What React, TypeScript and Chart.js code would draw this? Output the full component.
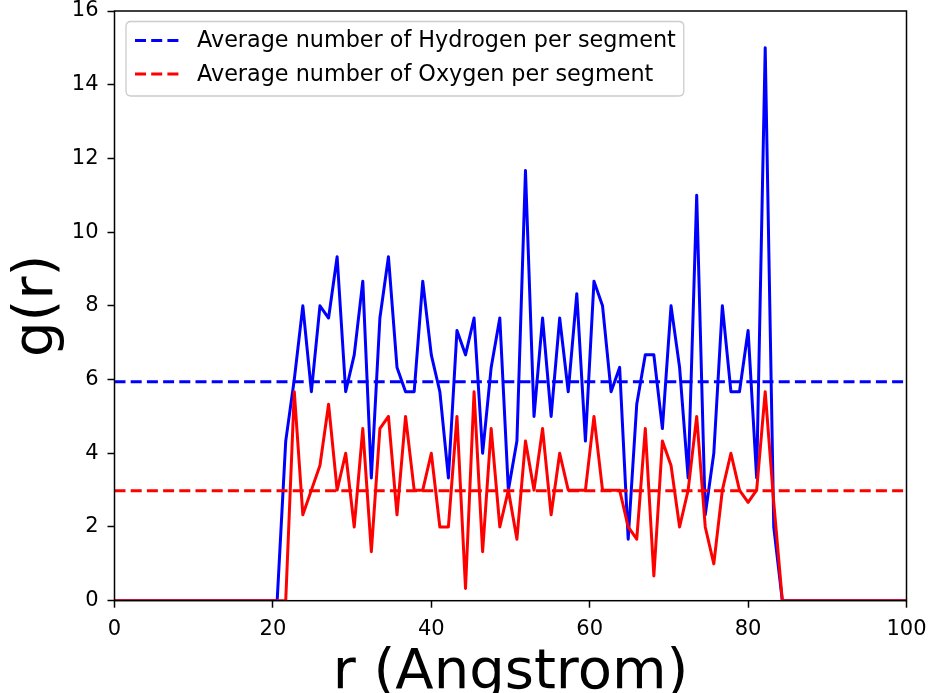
import React, { useEffect, useRef } from 'react';
import { Chart, registerables } from 'chart.js';

Chart.register(...registerables);

// r grid (Angstrom)
const rValues = [
  0, 1.08, 2.16, 3.24, 4.32, 5.41, 6.49, 7.57, 8.65, 9.73,
  10.81, 11.89, 12.97, 14.05, 15.13, 16.22, 17.3, 18.38, 19.46, 20.54,
  21.62, 22.7, 23.78, 24.86, 25.94, 27.03, 28.11, 29.19, 30.27, 31.35,
  32.43, 33.51, 34.59, 35.67, 36.75, 37.84, 38.92, 40.0, 41.08, 42.16,
  43.24, 44.32, 45.4, 46.48, 47.56, 48.65, 49.73, 50.81, 51.89, 52.97,
  54.05, 55.13, 56.21, 57.29, 58.37, 59.46, 60.54, 61.62, 62.7, 63.78,
  64.86, 65.94, 67.02, 68.1, 69.18, 70.27, 71.35, 72.43, 73.51, 74.59,
  75.67, 76.75, 77.83, 78.91, 80.0, 81.08, 82.16, 83.24, 84.32, 85.41,
  86.49, 87.57, 88.65, 89.73, 90.81, 91.89, 92.97, 94.05, 95.13, 96.22,
  97.3, 98.38, 99.46, 100.54,
];

// g(r) hydrogen (blue)
const hydrogen = [
  0, 0, 0, 0, 0, 0, 0, 0, 0, 0,
  0, 0, 0, 0, 0, 0, 0, 0, 0, 0,
  4.33, 6.0, 8.0, 5.67, 8.0, 7.67, 9.33, 5.67, 6.67, 8.67,
  3.33, 7.67, 9.33, 6.33, 5.67, 5.67, 8.67, 6.67, 5.67, 3.33,
  7.33, 6.67, 7.67, 4.0, 6.33, 7.67, 3.0, 4.33, 11.67, 5.0,
  7.67, 5.0, 7.67, 5.67, 8.33, 4.33, 8.67, 8.0, 5.67, 6.33,
  1.67, 5.33, 6.67, 6.67, 4.67, 8.0, 6.33, 3.33, 11.0, 2.33,
  4.0, 8.0, 5.67, 5.67, 7.33, 3.33, 15.0, 2.0, 0, 0,
  0, 0, 0, 0, 0, 0, 0, 0, 0, 0,
  0, 0, 0, 0,
];

// g(r) oxygen (red)
const oxygen = [
  0, 0, 0, 0, 0, 0, 0, 0, 0, 0,
  0, 0, 0, 0, 0, 0, 0, 0, 0, 0,
  0, 5.67, 2.33, 3.0, 3.67, 5.33, 3.0, 4.0, 2.0, 4.67,
  1.33, 4.67, 5.0, 2.33, 5.0, 3.0, 3.0, 4.0, 2.0, 2.0,
  5.0, 0.33, 5.67, 1.33, 4.67, 2.0, 3.0, 1.67, 4.33, 3.0,
  4.67, 2.33, 4.0, 3.0, 3.0, 3.0, 5.0, 3.0, 3.0, 3.0,
  2.0, 1.67, 4.67, 0.67, 4.33, 3.67, 2.0, 3.0, 5.0, 2.0,
  1.0, 3.0, 4.0, 3.0, 2.67, 3.0, 5.67, 2.67, 0, 0,
  0, 0, 0, 0, 0, 0, 0, 0, 0, 0,
  0, 0, 0, 0,
];

const hydrogenAverage = 5.94;
const oxygenAverage = 2.98;

const xTicks = [0, 20, 40, 60, 80, 100];
const yTicks = [0, 2, 4, 6, 8, 10, 12, 14, 16];
const legendLabels = [
  'Average number of Hydrogen per segment',
  'Average number of Oxygen per segment',
];
const legendColors = ['#0000ff', '#ff0000'];
const xTitle = 'r (Angstrom)';
const yTitle = 'g(r)';

const FONT = "'DejaVu Sans', sans-serif";
const LW = 3;

const framePlugin = {
  id: 'frameLegend',
  afterDatasetsDraw(chart: any) {
    const { ctx, chartArea: a } = chart;
    ctx.save();
    ctx.strokeStyle = '#000';
    ctx.lineWidth = 1.5;
    ctx.strokeRect(a.left, a.top, a.right - a.left, a.bottom - a.top);
    ctx.restore();
  },
  afterDraw(chart: any) {
    const { ctx, chartArea: a } = chart;
    ctx.save();
    ctx.font = `22.3px ${FONT}`;
    const textX = a.left + 82.5;
    const maxW = Math.max(...legendLabels.map((t) => ctx.measureText(t).width));
    const bx = a.left + 11.5;
    const by = a.top + 10.5;
    const bw = textX + maxW + 8 - bx;
    const bh = 74.5;
    const rad = 5;
    ctx.beginPath();
    ctx.moveTo(bx + rad, by);
    ctx.lineTo(bx + bw - rad, by);
    ctx.quadraticCurveTo(bx + bw, by, bx + bw, by + rad);
    ctx.lineTo(bx + bw, by + bh - rad);
    ctx.quadraticCurveTo(bx + bw, by + bh, bx + bw - rad, by + bh);
    ctx.lineTo(bx + rad, by + bh);
    ctx.quadraticCurveTo(bx, by + bh, bx, by + bh - rad);
    ctx.lineTo(bx, by + rad);
    ctx.quadraticCurveTo(bx, by, bx + rad, by);
    ctx.closePath();
    ctx.fillStyle = 'rgba(255,255,255,0.8)';
    ctx.fill();
    ctx.strokeStyle = '#cccccc';
    ctx.lineWidth = 1.3;
    ctx.stroke();

    const rows = [a.top + 29.5, a.top + 63];
    legendLabels.forEach((label, i) => {
      const y = rows[i];
      ctx.beginPath();
      ctx.setLineDash([11, 5.2]);
      ctx.lineCap = 'butt';
      ctx.strokeStyle = legendColors[i];
      ctx.lineWidth = LW;
      ctx.moveTo(a.left + 20.5, y);
      ctx.lineTo(a.left + 64.5, y);
      ctx.stroke();
      ctx.setLineDash([]);
      ctx.fillStyle = '#000';
      ctx.textAlign = 'left';
      ctx.textBaseline = 'middle';
      ctx.fillText(label, textX, y + 1);
    });
    ctx.restore();
  },
};

const zeroPad = (s: any) => {
  s.paddingTop = 0;
  s.paddingBottom = 0;
  s.paddingLeft = 0;
  s.paddingRight = 0;
};

export default function App() {
  const canvasRef = useRef<HTMLCanvasElement | null>(null);

  useEffect(() => {
    if (!canvasRef.current) return;
    const toPts = (vals: number[]) => rValues.map((x, i) => ({ x, y: vals[i] }));
    const chart = new Chart(canvasRef.current, {
      type: 'scatter',
      data: {
        datasets: [
          {
            label: 'hydrogen',
            data: toPts(hydrogen),
            showLine: true,
            borderColor: '#0000ff',
            backgroundColor: '#0000ff',
            borderWidth: LW,
            pointRadius: 0,
            borderJoinStyle: 'round',
            order: 4,
          },
          {
            label: 'oxygen',
            data: toPts(oxygen),
            showLine: true,
            borderColor: '#ff0000',
            backgroundColor: '#ff0000',
            borderWidth: LW,
            pointRadius: 0,
            borderJoinStyle: 'round',
            order: 3,
          },
          {
            label: legendLabels[0],
            data: [
              { x: 0, y: hydrogenAverage },
              { x: 100, y: hydrogenAverage },
            ],
            showLine: true,
            borderColor: '#0000ff',
            borderWidth: LW,
            borderDash: [11, 5.2],
            pointRadius: 0,
            order: 2,
          },
          {
            label: legendLabels[1],
            data: [
              { x: 0, y: oxygenAverage },
              { x: 100, y: oxygenAverage },
            ],
            showLine: true,
            borderColor: '#ff0000',
            borderWidth: LW,
            borderDash: [11, 5.2],
            pointRadius: 0,
            order: 1,
          },
        ],
      },
      options: {
        animation: false,
        responsive: false,
        maintainAspectRatio: false,
        layout: { padding: { left: 0, top: 11, right: 23.5, bottom: 0 } },
        plugins: {
          legend: { display: false },
          tooltip: { enabled: false },
        },
        scales: {
          x: {
            type: 'linear',
            min: 0,
            max: 100,
            afterBuildTicks: (s: any) => {
              s.ticks = xTicks.map((v) => ({ value: v }));
            },
            afterFit: (s: any) => {
              s.height = 92.3;
              zeroPad(s);
            },
            ticks: {
              autoSkip: false,
              maxRotation: 0,
              color: '#000',
              padding: 11,
              font: { family: FONT, size: 21, lineHeight: 1 },
              callback: (v: any) => String(v),
            },
            grid: {
              display: true,
              drawOnChartArea: false,
              drawTicks: true,
              tickLength: 7,
              tickWidth: 1.5,
              tickColor: '#000',
              color: '#000',
            },
            border: { display: false },
            title: {
              display: true,
              text: xTitle,
              color: '#000',
              font: { family: FONT, size: 56, lineHeight: 0.5 },
              padding: { top: 0, bottom: 6 },
            },
          },
          y: {
            type: 'linear',
            min: 0,
            max: 16,
            afterBuildTicks: (s: any) => {
              s.ticks = yTicks.map((v) => ({ value: v }));
            },
            afterFit: (s: any) => {
              s.width = 114.5;
              zeroPad(s);
            },
            ticks: {
              autoSkip: false,
              color: '#000',
              padding: 9,
              font: { family: FONT, size: 21, lineHeight: 1 },
              callback: (v: any) => String(v),
            },
            grid: {
              display: true,
              drawOnChartArea: false,
              drawTicks: true,
              tickLength: 7,
              tickWidth: 1.5,
              tickColor: '#000',
              color: '#000',
            },
            border: { display: false },
            title: {
              display: true,
              text: yTitle,
              color: '#000',
              font: { family: FONT, size: 56, lineHeight: 1.2 },
              padding: { top: 3.5, bottom: 0 },
            },
          },
        },
      },
      plugins: [framePlugin],
    });
    return () => chart.destroy();
  }, []);

  return (
    <div style={{ position: 'absolute', left: 0, top: 0, width: 930, height: 693, background: '#fff' }}>
      <canvas ref={canvasRef} width={930} height={693} style={{ width: 930, height: 693 }} />
    </div>
  );
}
